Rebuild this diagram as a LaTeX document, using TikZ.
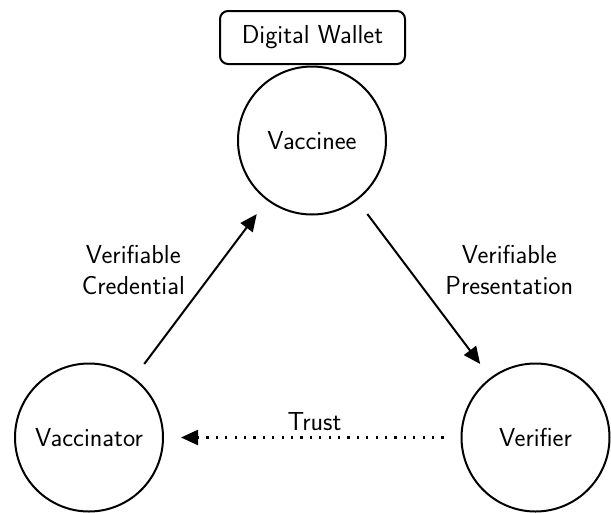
\documentclass[tikz,border=0pt]{standalone}
\usetikzlibrary{arrows.meta}
\begin{document}
\begin{tikzpicture}[x=1pt,y=-1pt,
  every node/.style={font=\fontsize{26}{31}\selectfont\sffamily},
  actor/.style={draw,circle,line width=2pt,minimum size=148pt,inner sep=0pt},
  walletbox/.style={draw,rounded corners=8pt,line width=2pt,minimum width=185pt,minimum height=53pt,inner sep=0pt},
  flow/.style={line width=2pt,-{Triangle[length=17pt,width=15pt]},shorten >=17pt,shorten <=17pt},
  trustflow/.style={line width=2.2pt,dash pattern=on 2.2pt off 7.2pt,-{Triangle[length=17pt,width=15pt]},shorten >=17pt,shorten <=17pt},
  lbl/.style={align=center,inner sep=0pt}]
  \useasboundingbox (0,0) rectangle (611,512);

  % participants
  \node[actor] (vaccinee) at (312,140.5) {Vaccinee};
  \node[actor] (vaccinator) at (89,437.5) {Vaccinator};
  \node[actor] (verifier) at (535.5,437.5) {Verifier};

  % wallet sitting on top of the vaccinee
  \node[walletbox] (wallet) at (312.5,37.5) {Digital Wallet};

  % flows between participants
  \draw[flow] (vaccinator) -- (vaccinee);
  \draw[flow] (vaccinee) -- (verifier);
  \draw[trustflow] (verifier) -- (vaccinator);

  % flow labels
  \node[lbl] (credlbl) at (133.3,270) {Verifiable\\Credential};
  \node[lbl] (preslbl) at (509.3,270) {Verifiable\\Presentation};
  \node[lbl] (trustlbl) at (314.5,421.7) {Trust};
\end{tikzpicture}
\end{document}
